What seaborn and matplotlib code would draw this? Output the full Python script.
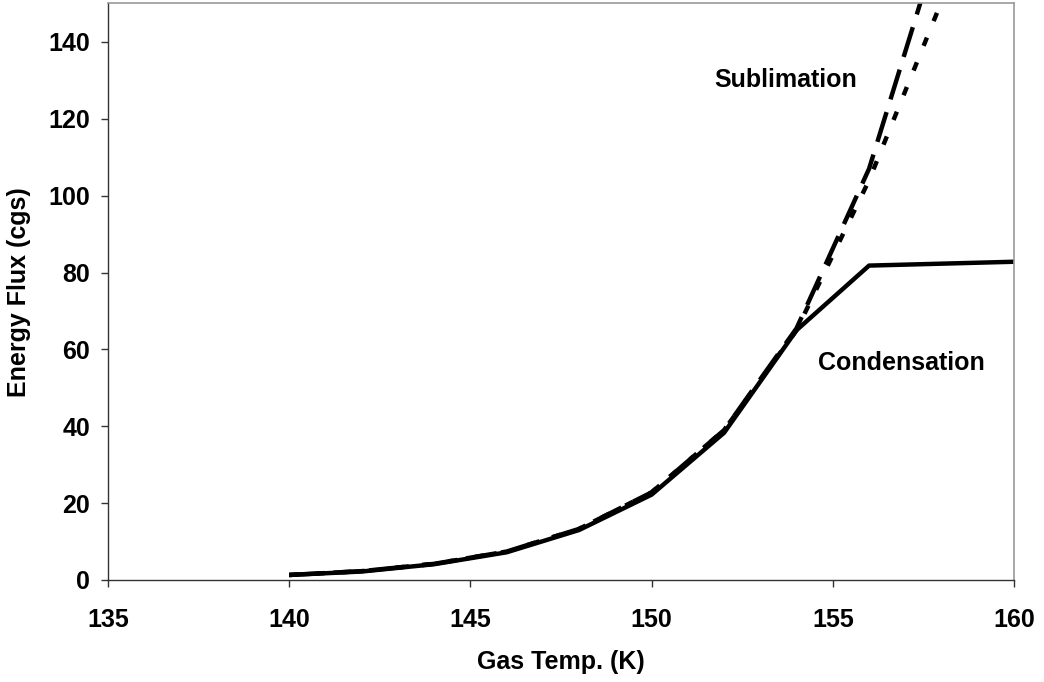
import matplotlib
matplotlib.use("Agg")
import matplotlib.pyplot as plt
import seaborn as sns
import pandas as pd

# Data
temp = [140, 142, 144, 146, 148, 150, 152, 154, 156, 158, 160]
condensation = [1.3, 2.2, 4.1, 7.2, 13.0, 22.2, 38.3, 65.0, 81.8, 82.3, 82.8]
temp_sub = [140, 142, 144, 146, 148, 150, 152, 154, 156, 158]
sublimation_long = [1.3, 2.3, 4.2, 7.4, 13.3, 22.8, 39.0, 65.5, 107.0, 168.0]
sublimation_short = [1.3, 2.3, 4.2, 7.4, 13.3, 22.8, 39.0, 65.0, 104.0, 150.5]
xticks = [135, 140, 145, 150, 155, 160]
yticks = [0, 20, 40, 60, 80, 100, 120, 140]

sns.set_theme(style="white")
plt.rcParams['font.family'] = ['Liberation Sans', 'DejaVu Sans']
plt.rcParams['font.weight'] = 'bold'
plt.rcParams['text.color'] = 'black'
plt.rcParams['axes.labelcolor'] = 'black'
plt.rcParams['xtick.color'] = 'black'
plt.rcParams['ytick.color'] = 'black'

fig = plt.figure(figsize=(10.44, 6.82), dpi=100)
ax = fig.add_axes([0.1034, 0.1496, 0.8679, 0.8453])

df_long = pd.DataFrame({"T": temp_sub, "F": sublimation_long})
df_short = pd.DataFrame({"T": temp_sub, "F": sublimation_short})
df_cond = pd.DataFrame({"T": temp, "F": condensation})

sns.lineplot(data=df_short, x="T", y="F", ax=ax, color="black", lw=3.2,
             estimator=None)
ax.lines[-1].set_dashes([2.0, 4.0])
sns.lineplot(data=df_long, x="T", y="F", ax=ax, color="black", lw=3.2,
             estimator=None)
ax.lines[-1].set_dashes([7.0, 3.0])
sns.lineplot(data=df_cond, x="T", y="F", ax=ax, color="black", lw=3.2,
             estimator=None)
for ln in ax.lines:
    ln.set_solid_capstyle('butt')
    ln.set_dash_capstyle('butt')

ax.set_xlim(135, 160)
ax.set_ylim(0, 150)
ax.set_xticks(xticks)
ax.set_yticks(yticks)
ax.tick_params(axis='both', which='major', direction='out', length=5,
               width=1, color='#333333', labelsize=18, labelcolor='black',
               bottom=True, left=True)
ax.tick_params(axis='x', pad=15)
ax.tick_params(axis='y', pad=8)
for lab in ax.get_xticklabels() + ax.get_yticklabels():
    lab.set_fontweight('bold')

ax.set_xlabel("Gas Temp. (K)", fontsize=18, fontweight='bold', labelpad=13,
              color='black')
ax.set_ylabel("Energy Flux (cgs)", fontsize=18, fontweight='bold', labelpad=12,
              color='black')

for side in ['left', 'bottom']:
    ax.spines[side].set_color('#333333')
    ax.spines[side].set_linewidth(1.0)
for side in ['top', 'right']:
    ax.spines[side].set_color('#999999')
    ax.spines[side].set_linewidth(1.2)

ax.text(153.7, 130, "Sublimation", fontsize=18, fontweight='bold',
        ha='center', va='center', color='black')
ax.text(156.9, 56.5, "Condensation", fontsize=18, fontweight='bold',
        ha='center', va='center', color='black')

fig.savefig("out.png", dpi=100, facecolor='white')
